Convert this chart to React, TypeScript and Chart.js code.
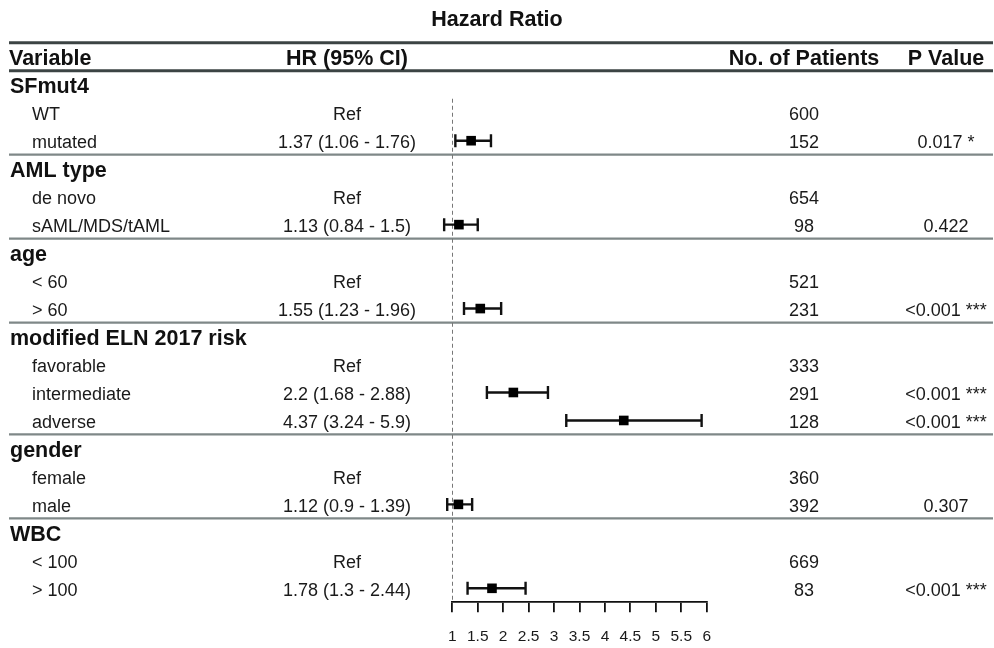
import React, { useEffect, useRef } from "react";
import { Chart, registerables } from "chart.js";

Chart.register(...registerables);

const FONT = '"Liberation Sans", Arial, Helvetica, sans-serif';

// ---- data ----
const TITLE = "Hazard Ratio";
const HEADERS = ["Variable", "HR (95% CI)", "No. of Patients", "P Value"];
const rowLabels = [
  "SFmut4", "WT", "mutated",
  "AML type", "de novo", "sAML/MDS/tAML",
  "age", "< 60", "> 60",
  "modified ELN 2017 risk", "favorable", "intermediate", "adverse",
  "gender", "female", "male",
  "WBC", "< 100", "> 100",
];
const rowIsGroup = [
  true, false, false,
  true, false, false,
  true, false, false,
  true, false, false, false,
  true, false, false,
  true, false, false,
];
const hrText = [
  "", "Ref", "1.37 (1.06 - 1.76)",
  "", "Ref", "1.13 (0.84 - 1.5)",
  "", "Ref", "1.55 (1.23 - 1.96)",
  "", "Ref", "2.2 (1.68 - 2.88)", "4.37 (3.24 - 5.9)",
  "", "Ref", "1.12 (0.9 - 1.39)",
  "", "Ref", "1.78 (1.3 - 2.44)",
];
const hrValue = [
  null, null, 1.37,
  null, null, 1.13,
  null, null, 1.55,
  null, null, 2.2, 4.37,
  null, null, 1.12,
  null, null, 1.78,
];
const ciLower = [
  null, null, 1.06,
  null, null, 0.84,
  null, null, 1.23,
  null, null, 1.68, 3.24,
  null, null, 0.9,
  null, null, 1.3,
];
const ciUpper = [
  null, null, 1.76,
  null, null, 1.5,
  null, null, 1.96,
  null, null, 2.88, 5.9,
  null, null, 1.39,
  null, null, 2.44,
];
const patients = [
  "", "600", "152",
  "", "654", "98",
  "", "521", "231",
  "", "333", "291", "128",
  "", "360", "392",
  "", "669", "83",
];
const pValues = [
  "", "", "0.017 *",
  "", "", "0.422",
  "", "", "<0.001 ***",
  "", "", "<0.001 ***", "<0.001 ***",
  "", "", "0.307",
  "", "", "<0.001 ***",
];
const X_MIN = 1;
const X_MAX = 6;
const X_STEP = 0.5;
const REF_VALUE = 1;

// ---- layout constants ----
const W = 994;
const H = 648;
const LINE_LEFT = 9;
const LINE_RIGHT = 993;
const COL_GROUP_X = 10;
const COL_ITEM_X = 32;
const COL_HR_X = 347;
const COL_N_X = 804;
const COL_P_X = 946;

const forestPlugin = {
  id: "forestTable",
  beforeDatasetsDraw(chart: any) {
    const { ctx } = chart;
    const x = chart.scales.x;
    const y = chart.scales.y;
    const nRows = rowLabels.length;
    ctx.save();

    // title
    ctx.fillStyle = "#111";
    ctx.font = `bold 21.5px ${FONT}`;
    ctx.textAlign = "center";
    ctx.textBaseline = "alphabetic";
    ctx.fillText(TITLE, W / 2, 26);

    // header lines
    const hline = (yy: number, color: string, lw: number) => {
      ctx.beginPath();
      ctx.strokeStyle = color;
      ctx.lineWidth = lw;
      ctx.moveTo(LINE_LEFT, yy);
      ctx.lineTo(LINE_RIGHT, yy);
      ctx.stroke();
    };
    hline(y.getPixelForValue(-0.5), "#3c4444", 3);
    hline(y.getPixelForValue(0.5), "#3c4444", 3);
    for (let i = 1; i < nRows; i++) {
      if (rowIsGroup[i]) hline(y.getPixelForValue(i + 0.5), "#7f8888", 2.2);
    }

    // header texts
    const h0 = y.getPixelForValue(0) + 8.2;
    ctx.font = `bold 21.5px ${FONT}`;
    ctx.fillStyle = "#111";
    ctx.textAlign = "left";
    ctx.fillText(HEADERS[0], LINE_LEFT, h0);
    ctx.textAlign = "center";
    ctx.fillText(HEADERS[1], COL_HR_X, h0);
    ctx.fillText(HEADERS[2], COL_N_X, h0);
    ctx.fillText(HEADERS[3], COL_P_X, h0);

    // rows
    for (let i = 0; i < nRows; i++) {
      const r = i + 1;
      const cy = y.getPixelForValue(r);
      if (rowIsGroup[i]) {
        ctx.font = `bold 21.5px ${FONT}`;
        ctx.textAlign = "left";
        ctx.fillStyle = "#111";
        ctx.fillText(rowLabels[i], COL_GROUP_X, cy + 8.2);
        continue;
      }
      const by = cy + 7.4;
      ctx.font = `18px ${FONT}`;
      ctx.fillStyle = "#1a1a1a";
      ctx.textAlign = "left";
      ctx.fillText(rowLabels[i], COL_ITEM_X, by);
      ctx.textAlign = "center";
      ctx.fillText(hrText[i], COL_HR_X, by);
      ctx.fillText(patients[i], COL_N_X, by);
      ctx.fillText(pValues[i], COL_P_X, by);
    }

    // dashed reference line
    const rx = Math.round(x.getPixelForValue(REF_VALUE)) + 0.5;
    ctx.beginPath();
    ctx.strokeStyle = "#777";
    ctx.lineWidth = 1;
    ctx.setLineDash([4, 3]);
    ctx.moveTo(rx, y.getPixelForValue(1.5));
    ctx.lineTo(rx, y.getPixelForValue(nRows + 0.5));
    ctx.stroke();
    ctx.setLineDash([]);

    // error bars
    ctx.strokeStyle = "#111";
    ctx.lineWidth = 2.4;
    for (let i = 0; i < nRows; i++) {
      const lo = ciLower[i];
      const hi = ciUpper[i];
      if (lo == null || hi == null) continue;
      const cy = y.getPixelForValue(i + 1);
      const x1 = x.getPixelForValue(lo);
      const x2 = x.getPixelForValue(hi);
      ctx.beginPath();
      ctx.moveTo(x1, cy);
      ctx.lineTo(x2, cy);
      ctx.moveTo(x1, cy - 6.5);
      ctx.lineTo(x1, cy + 6.5);
      ctx.moveTo(x2, cy - 6.5);
      ctx.lineTo(x2, cy + 6.5);
      ctx.stroke();
    }
    ctx.restore();
  },
};

export default function App() {
  const canvasRef = useRef<HTMLCanvasElement | null>(null);

  useEffect(() => {
    const canvas = canvasRef.current;
    if (!canvas) return;
    const points: { x: number; y: number }[] = [];
    hrValue.forEach((v, i) => {
      if (v != null) points.push({ x: v, y: i + 1 });
    });
    const xTicks: number[] = [];
    for (let t = X_MIN; t <= X_MAX + 1e-9; t += X_STEP) xTicks.push(t);

    const chart = new Chart(canvas, {
      type: "scatter",
      data: {
        datasets: [
          {
            data: points,
            pointStyle: "rect",
            pointRadius: 6.8,
            pointHoverRadius: 6.8,
            backgroundColor: "#000",
            borderWidth: 0,
            clip: false,
          } as any,
        ],
      },
      options: {
        animation: false,
        responsive: false,
        maintainAspectRatio: false,
        devicePixelRatio: 1,
        events: [],
        layout: { padding: { left: 452.3, right: W - 706.7, top: 42.8, bottom: 0 } },
        plugins: { legend: { display: false }, tooltip: { enabled: false }, title: { display: false } },
        scales: {
          x: {
            type: "linear",
            position: "bottom",
            min: X_MIN,
            max: X_MAX,
            afterBuildTicks: (scale: any) => {
              scale.ticks = xTicks.map((v) => ({ value: v }));
            },
            afterFit: (scale: any) => {
              scale.height = H - 602.3;
            },
            ticks: {
              color: "#1a1a1a",
              font: { family: FONT, size: 15.5 },
              padding: 15,
              maxRotation: 0,
              autoSkip: false,
              callback: (v: any) => String(v),
            },
            grid: {
              drawOnChartArea: false,
              drawTicks: true,
              tickLength: 10,
              color: "#111",
              lineWidth: 1.8,
            },
            border: { display: true, color: "#111", width: 1.8 },
          },
          y: {
            type: "linear",
            display: false,
            min: -0.5,
            max: rowLabels.length + 0.5,
            reverse: true,
          },
        },
      },
      plugins: [forestPlugin],
    });
    return () => chart.destroy();
  }, []);

  return (
    <div style={{ position: "fixed", left: 0, top: 0, width: W, height: H, background: "#fff" }}>
      <canvas ref={canvasRef} width={W} height={H} style={{ display: "block" }} />
    </div>
  );
}
